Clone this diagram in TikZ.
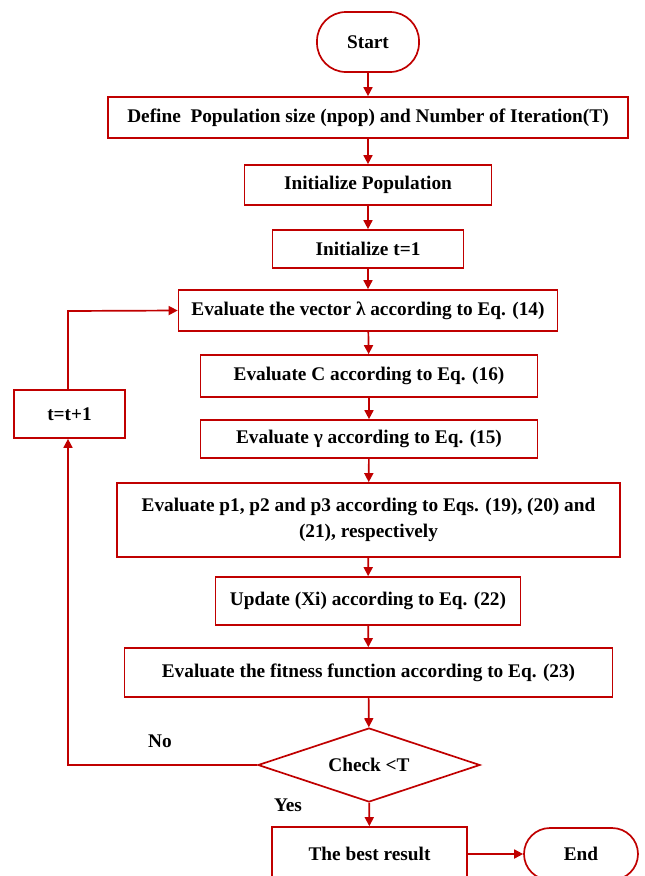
\documentclass[tikz,border=0pt]{standalone}
\usepackage{fontspec}
\setmainfont{Liberation Serif}
\usetikzlibrary{arrows.meta,shapes.geometric}
\definecolor{fred}{HTML}{C00000}
\tikzset{
  box/.style={draw=fred, line width=1.7pt, fill=white, rectangle, align=center, inner sep=2pt, font=\bfseries\fontsize{19.3}{26}\selectfont},
  term/.style={box, rounded corners=24pt},
  dec/.style={box, diamond, aspect=3, inner sep=0pt},
  arr/.style={draw=fred, line width=1.7pt, -{Triangle[length=9pt,width=9pt]}},
  lbl/.style={font=\bfseries\fontsize{19.3}{26}\selectfont, inner sep=0pt}
}
\begin{document}
\begin{tikzpicture}[x=1pt,y=-1pt]
\useasboundingbox (0,0) rectangle (645,876);
\clip (0,0) rectangle (645,876);
\node[term, minimum width=102pt, minimum height=60pt, rounded corners=29pt] (start) at (368,42) {Start};
\node[box, minimum width=520pt, minimum height=41pt] (def) at (368,117.5) {Define\ \ Population size (npop) and Number of Iteration(T)};
\node[box, minimum width=247pt, minimum height=40pt] (ipop) at (368,185) {Initialize Population};
\node[box, minimum width=191pt, minimum height=38pt] (it) at (368,249) {Initialize t=1};
\node[box, minimum width=379pt, minimum height=41pt] (lam) at (368,310.5) {Evaluate the vector λ according to Eq. (14)};
\node[box, minimum width=337pt, minimum height=42pt] (evc) at (369,376) {Evaluate C according to Eq. (16)};
\node[box, minimum width=337pt, minimum height=38pt] (gam) at (369,439) {Evaluate γ according to Eq. (15)};
\node[box, minimum width=111pt, minimum height=48pt] (tt) at (69.5,414) {t=t+1};
\node[box, minimum width=503pt, minimum height=74pt] (pp) at (368.5,520) {Evaluate p1, p2 and p3 according to Eqs. (19), (20) and\\(21), respectively};
\node[box, minimum width=305pt, minimum height=48pt] (xi) at (368,601) {Update (Xi) according to Eq. (22)};
\node[box, minimum width=488pt, minimum height=49pt] (fit) at (368.5,672.5) {Evaluate the fitness function according to Eq. (23)};
\node[dec, minimum width=222pt, minimum height=74pt] (chk) at (369,765) {Check <T};
\node[box, minimum width=195pt, minimum height=54pt] (best) at (369.5,854) {The best result};
\node[term, minimum width=114pt, minimum height=52pt, rounded corners=26pt] (end) at (581,854) {End};
\coordinate (lb) at (68,765);
\coordinate (lt) at (68,311);
\draw[arr] (start) -- (def);
\draw[arr] (def) -- (ipop);
\draw[arr] (ipop) -- (it);
\draw[arr] (it) -- (lam);
\draw[arr] (lam) -- (evc);
\draw[arr] (evc) -- (gam);
\draw[arr] (gam) -- (pp);
\draw[arr] (pp) -- (xi);
\draw[arr] (xi) -- (fit);
\draw[arr] (fit) -- (chk);
\draw[arr] (chk) -- (best);
\draw[arr] (best.east |- end.west) -- (end.west);
\draw[arr] (chk.west) -- (lb) -- (tt.south -| lb);
\draw[arr] (tt.north -| lt) -- (lt) -- (lam.west);
\node[lbl] (no) at (160,741) {No};
\node[lbl] (yes) at (288,805) {Yes};
\end{tikzpicture}
\end{document}
